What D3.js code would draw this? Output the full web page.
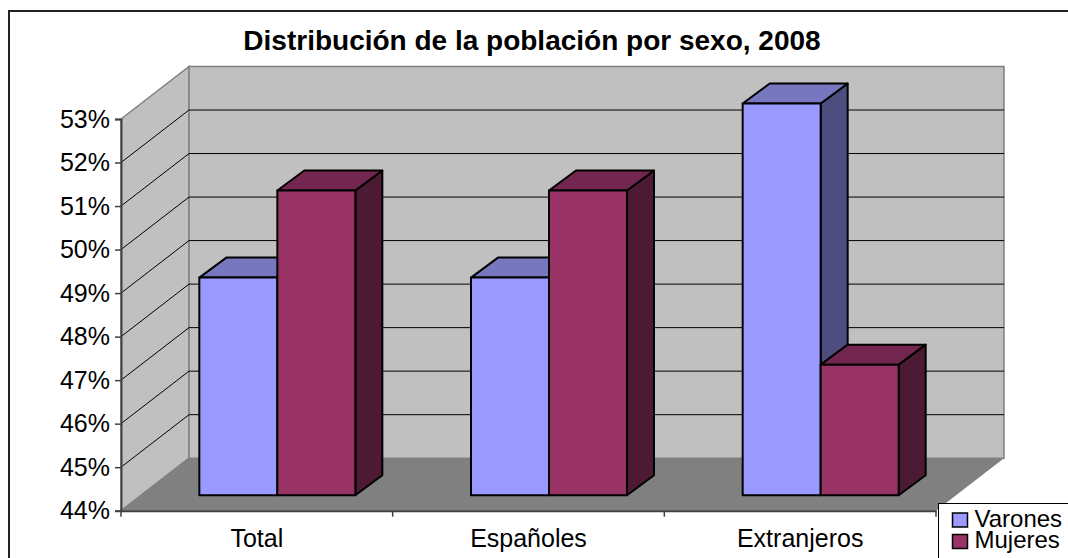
<!DOCTYPE html>
<html>
<head>
<meta charset="utf-8">
<script src="https://cdn.jsdelivr.net/npm/d3@7"></script>
<style>
  body { margin: 0; background: #fff; }
  text { font-family: "Liberation Sans", Arial, sans-serif; fill: #000; }
</style>
</head>
<body>
<div id="chart"></div>
<script>
var categories = ["Total", "Españoles", "Extranjeros"];
var seriesNames = ["Varones", "Mujeres"];
var varones = [49, 49, 53];
var mujeres = [51, 51, 47];
var yTicks = [44, 45, 46, 47, 48, 49, 50, 51, 52, 53];
var chartTitle = "Distribución de la población por sexo, 2008";

var colors = {
  Varones: {front: "#9999ff", top: "#7777bf", side: "#4d4d80"},
  Mujeres: {front: "#993366", top: "#732650", side: "#4d1a33"}
};

// depth of the 3d box and of one bar
var wallDx = 68, wallDy = -52.5,
    barDx = 27, barDy = -20,
    frontDx = 20.5, frontDy = -15.5;

var svg = d3.select("#chart").append("svg")
    .attr("width", 1068)
    .attr("height", 558)
    .style("display", "block");

// frame runs off the right and bottom of the picture
svg.append("rect")
    .attr("x", 9).attr("y", 11)
    .attr("width", 1080).attr("height", 570)
    .attr("fill", "#fff")
    .attr("stroke", "#222").attr("stroke-width", 2);

var y = d3.scaleLinear().domain([44, 53]).range([510.7, 119]);
var x0 = d3.scaleBand().domain(categories).range([121, 936]);
// bars stand a little behind the axis plane
var barBand = d3.scaleBand().domain(categories)
    .range([121 + frontDx, 936 + frontDx])
    .paddingInner(0.4258).paddingOuter(0.2129);
var x1 = d3.scaleBand().domain(seriesNames).range([0, barBand.bandwidth()]);

function poly(points) {
  return "M" + points.map(function(p) { return p[0] + "," + p[1]; }).join("L") + "Z";
}

var xLeft = x0.range()[0], xRight = x0.range()[1],
    yBase = y(44), yTop = y(53);

// side wall, back wall, floor
svg.append("path")
    .attr("d", poly([[xLeft, yBase], [xLeft, yTop], [xLeft + wallDx, yTop + wallDy], [xLeft + wallDx, yBase + wallDy]]))
    .attr("fill", "#c0c0c0").attr("stroke", "#808080").attr("stroke-width", 1.5);
svg.append("path")
    .attr("d", poly([[xLeft + wallDx, yTop + wallDy], [xRight + wallDx, yTop + wallDy], [xRight + wallDx, yBase + wallDy], [xLeft + wallDx, yBase + wallDy]]))
    .attr("fill", "#c0c0c0").attr("stroke", "#808080").attr("stroke-width", 1.5);

svg.append("g").selectAll("path")
    .data(yTicks.filter(function(d) { return d > 44 && d < 53; }))
  .enter().append("path")
    .attr("fill", "none").attr("stroke", "#000").attr("stroke-width", 1)
    .attr("d", function(d) {
      return "M" + xLeft + "," + y(d) + "L" + (xLeft + wallDx) + "," + (y(d) + wallDy) + "L" + (xRight + wallDx) + "," + (y(d) + wallDy);
    });

svg.append("path")
    .attr("d", poly([[xLeft, yBase], [xLeft + wallDx, yBase + wallDy], [xRight + wallDx, yBase + wallDy], [xRight, yBase]]))
    .attr("fill", "#808080");

// bars
var barBottom = yBase + frontDy;
var bars = [];
categories.forEach(function(c, i) {
  bars.push({cat: c, name: "Varones", value: varones[i]});
  bars.push({cat: c, name: "Mujeres", value: mujeres[i]});
});

var bar = svg.append("g").selectAll("g")
    .data(bars)
  .enter().append("g")
    .attr("stroke", "#000").attr("stroke-width", 2).attr("stroke-linejoin", "round");

function barLeft(d) { return barBand(d.cat) + x1(d.name); }
function barTop(d) { return y(d.value) + frontDy; }

bar.append("path")
    .attr("fill", function(d) { return colors[d.name].side; })
    .attr("d", function(d) {
      var r = barLeft(d) + x1.bandwidth();
      return poly([[r, barTop(d)], [r + barDx, barTop(d) + barDy], [r + barDx, barBottom + barDy], [r, barBottom]]);
    });
bar.append("path")
    .attr("fill", function(d) { return colors[d.name].top; })
    .attr("d", function(d) {
      var l = barLeft(d), r = l + x1.bandwidth();
      return poly([[l, barTop(d)], [l + barDx, barTop(d) + barDy], [r + barDx, barTop(d) + barDy], [r, barTop(d)]]);
    });
bar.append("rect")
    .attr("fill", function(d) { return colors[d.name].front; })
    .attr("x", barLeft)
    .attr("y", barTop)
    .attr("width", x1.bandwidth())
    .attr("height", function(d) { return barBottom - barTop(d); });

// axes
var yAxis = d3.axisLeft(y)
    .tickValues(yTicks)
    .tickSize(6)
    .tickPadding(5)
    .tickFormat(function(d) { return d + "%"; });
var yG = svg.append("g").attr("transform", "translate(" + xLeft + ",0)").call(yAxis);

var xAxis = d3.axisBottom(x0)
    .tickSize(0)
    .tickPadding(19);
var xG = svg.append("g").attr("transform", "translate(0," + yBase + ")").call(xAxis);

// category separators on the x axis
xG.append("g").selectAll("line")
    .data(d3.range(categories.length + 1))
  .enter().append("line")
    .attr("x1", function(i) { return xLeft + i * x0.step(); })
    .attr("x2", function(i) { return xLeft + i * x0.step(); })
    .attr("y1", 0).attr("y2", 6)
    .attr("stroke", "#404040").attr("stroke-width", 1.5);

[yG, xG].forEach(function(g) {
  g.select(".domain").attr("stroke", "#404040").attr("stroke-width", 2);
  g.selectAll(".tick line").attr("stroke", "#404040").attr("stroke-width", 1.5);
  g.selectAll("text").style("font-size", "25px").attr("fill", "#000");
});

// title
svg.append("text")
    .attr("x", 532).attr("y", 50)
    .attr("text-anchor", "middle")
    .style("font-size", "28px").style("font-weight", "bold")
    .text(chartTitle);

// legend
var legend = svg.append("g");
legend.append("rect")
    .attr("x", 938.5).attr("y", 503.5)
    .attr("width", 140).attr("height", 70)
    .attr("fill", "#fff").attr("stroke", "#000").attr("stroke-width", 1);

var legendY = d3.scalePoint().domain(seriesNames).range([520, 541.5]);
var item = legend.selectAll(".item")
    .data(seriesNames)
  .enter().append("g")
    .attr("class", "item")
    .attr("transform", function(d) { return "translate(952.5," + legendY(d) + ")"; });
item.append("rect")
    .attr("x", 0).attr("y", -7)
    .attr("width", 15).attr("height", 14)
    .attr("fill", function(d) { return colors[d].front; })
    .attr("stroke", "#000").attr("stroke-width", 1.5);
item.append("text")
    .attr("x", 22).attr("y", 6.5)
    .style("font-size", "24px")
    .text(function(d) { return d; });
</script>
</body>
</html>
